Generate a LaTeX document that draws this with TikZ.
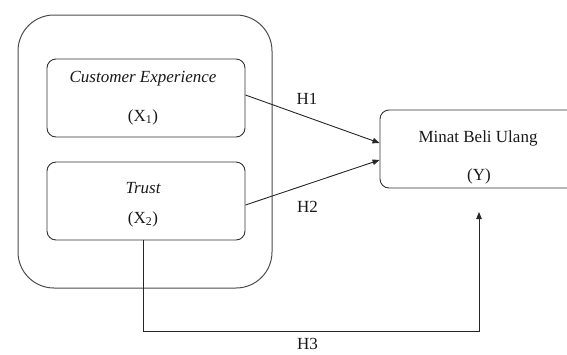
\documentclass[tikz,border=0pt]{standalone}
\usepackage{fontspec}
\setmainfont{Liberation Serif}
\usetikzlibrary{arrows.meta}
\begin{document}
\begin{tikzpicture}[x=1pt,y=-1pt,
  font=\fontsize{17}{20}\selectfont,
  outerbox/.style={draw=black!70, line width=1pt, rounded corners=36pt, inner sep=0pt},
  varbox/.style={draw=black!80, line width=0.9pt, rounded corners=9pt, inner sep=0pt, minimum width=198pt, minimum height=78pt},
  ybox/.style={draw=black!80, line width=0.9pt, rounded corners=9pt, inner sep=0pt, minimum width=196pt, minimum height=78pt},
  txt/.style={anchor=base, inner sep=0pt, text=black!90},
  arr/.style={draw=black!85, line width=0.9pt, -{Triangle[length=7pt,width=5.5pt]}}]
\clip (0,0) rectangle (567,354);
\useasboundingbox (0,0) rectangle (567,354);
\node[outerbox, minimum width=254pt, minimum height=273pt] (outer) at (145,151.5) {};
\node[varbox] (x1) at (146,98) {};
\node[varbox] (x2) at (146,201) {};
\node[ybox] (y) at (478,149) {};
\node[txt] (x1a) at (143,82) {\itshape Customer Experience};
\node[txt] (x1b) at (143,121) {(X\textsubscript{1})};
\node[txt] (x2a) at (143,193) {\itshape Trust};
\node[txt] (x2b) at (143,223) {(X\textsubscript{2})};
\node[txt] (ya) at (478,142) {Minat Beli Ulang};
\node[txt] (yb) at (479,180) {(Y)};
\node[txt] (h1) at (307,104) {H1};
\node[txt] (h2) at (307.5,212) {H2};
\node[txt] (h3) at (307.5,349) {H3};
\coordinate (tip) at (479,212);
\draw[arr] ([yshift=3pt]x1.east) -- ([yshift=6pt]y.west);
\draw[arr] ([yshift=-4pt]x2.east) -- ([yshift=-11pt]y.west);
\draw[arr] ([xshift=-3pt]x2.south) -- ++(0,91) -| (tip);
\end{tikzpicture}
\end{document}
